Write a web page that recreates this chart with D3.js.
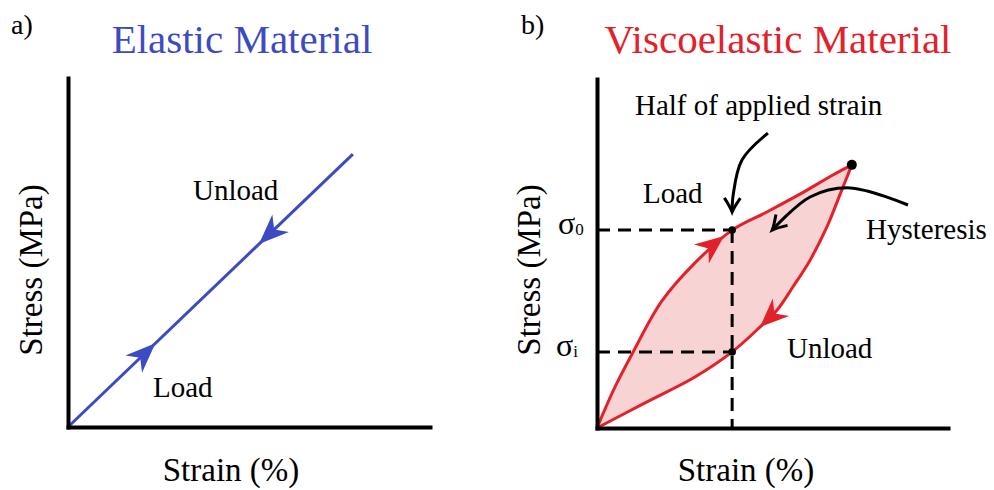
<!DOCTYPE html>
<html>
<head>
<meta charset="utf-8">
<script src="https://cdn.jsdelivr.net/npm/d3@7"></script>
<style>
  html, body { margin: 0; padding: 0; background: #fff; }
  svg { display: block; }
  text { font-family: "Liberation Serif", "Times New Roman", serif; }
</style>
</head>
<body>
<svg id="chart" width="994" height="490"></svg>
<script>
// ---------- DATA ----------
// Panel a) elastic material (strain, stress in arbitrary units 0..10)
const elasticStrain = [0, 7.87];
const elasticStress = [0, 7.82];
const elasticArrowStrain = [2.40, 5.25];
const elasticArrowStress = [2.41, 5.27];
const elasticArrowDir = [1, -1];        // load forward, unload backward

// Panel b) viscoelastic material (listed by increasing strain)
const loadStrain   = [0, 0.51, 1.03, 1.85, 2.79, 3.85, 4.84, 5.78, 6.72, 7.26];
const loadStress   = [0, 1.17, 2.18, 3.64, 4.73, 5.67, 6.19, 6.70, 7.25, 7.54];
const unloadStrain = [0, 1.37, 2.79, 3.85, 4.64, 5.13, 5.58, 6.07, 6.55, 6.92, 7.26];
const unloadStress = [0, 0.72, 1.46, 2.18, 2.89, 3.38, 4.04, 4.81, 5.76, 6.68, 7.54];
const halfStrain = 3.85;
const sigma0 = 5.67;
const sigmaI = 2.18;
const viscoArrowStrain = [3.62, 4.64];
const viscoArrowStress = [5.50, 2.89];
const viscoArrowDir = [1, -1];

// annotation arrows (panel b)
const halfArrowStrain = [4.87, 4.13, 3.88, 3.85];
const halfArrowStress = [8.45, 7.68, 6.68, 6.19];
const hystArrowStrain = [8.86, 7.21, 6.07, 4.99];
const hystArrowStress = [6.39, 6.88, 6.62, 5.67];

// labels
const panelLetters = ["a)", "b)"];
const titles = ["Elastic Material", "Viscoelastic Material"];
const xLabel = "Strain (%)";
const yLabel = "Stress (MPa)";

// ---------- STYLE ----------
const BLUE = "#3d4bc2";
const RED = "#e2222b";
const FILL = "#f8d3d3";

const svg = d3.select("#chart");

// scales
const xA = d3.scaleLinear().domain([0, 10]).range([68, 430]);
const yA = d3.scaleLinear().domain([0, 10]).range([427, 78]);
const xB = d3.scaleLinear().domain([0, 10]).range([597, 948]);
const yB = d3.scaleLinear().domain([0, 10]).range([428, 79]);

function drawAxes(x, y) {
  const gx = svg.append("g").attr("transform", `translate(0,${y(0)})`)
    .call(d3.axisBottom(x).ticks(0).tickSizeOuter(0));
  const gy = svg.append("g").attr("transform", `translate(${x(0)},0)`)
    .call(d3.axisLeft(y).ticks(0).tickSizeOuter(0));
  [gx, gy].forEach(g => g.select(".domain")
    .attr("stroke", "#000").attr("stroke-width", 4).attr("stroke-linecap", "square"));
}

function arrowAt(pathNode, px, py, dir, color, len, half, notch) {
  const total = pathNode.getTotalLength();
  let best = 0, bd = Infinity;
  for (let l = 0; l <= total; l += 0.5) {
    const p = pathNode.getPointAtLength(l);
    const d = (p.x - px) ** 2 + (p.y - py) ** 2;
    if (d < bd) { bd = d; best = l; }
  }
  const p = pathNode.getPointAtLength(best);
  const a = pathNode.getPointAtLength(Math.max(0, best - 6));
  const b = pathNode.getPointAtLength(Math.min(total, best + 6));
  let ang = Math.atan2(b.y - a.y, b.x - a.x) * 180 / Math.PI;
  if (dir < 0) ang += 180;
  svg.append("path")
    .attr("d", `M0,0 L${-len},${-half} L${-len + notch},0 L${-len},${half} Z`)
    .attr("fill", color)
    .attr("transform", `translate(${p.x},${p.y}) rotate(${ang})`);
}

function vArrow(pathNode, color) {
  const total = pathNode.getTotalLength();
  const p = pathNode.getPointAtLength(total);
  const a = pathNode.getPointAtLength(total - 3);
  const ang = Math.atan2(p.y - a.y, p.x - a.x) * 180 / Math.PI;
  svg.append("path")
    .attr("d", "M-14,-8 Q-5,-2 0,0 Q-5,2 -14,8")
    .attr("fill", "none").attr("stroke", color).attr("stroke-width", 3)
    .attr("transform", `translate(${p.x},${p.y}) rotate(${ang})`);
}

// ---------- PANEL A ----------
const lineA = d3.line().x(d => xA(d[0])).y(d => yA(d[1]));
const elasticPts = elasticStrain.map((s, i) => [s, elasticStress[i]]);
const blueLine = svg.append("path")
  .attr("d", lineA(elasticPts))
  .attr("fill", "none").attr("stroke", BLUE).attr("stroke-width", 3);
elasticArrowStrain.forEach((s, i) => {
  arrowAt(blueLine.node(), xA(s), yA(elasticArrowStress[i]), elasticArrowDir[i], BLUE, 30, 12, 9);
});
drawAxes(xA, yA);

// ---------- PANEL B ----------
const lineB = d3.line().x(d => xB(d[0])).y(d => yB(d[1])).curve(d3.curveCatmullRom.alpha(0.5));
const loadPts = loadStrain.map((s, i) => [s, loadStress[i]]);
const unloadPts = unloadStrain.map((s, i) => [s, unloadStress[i]]);

const loadD = lineB(loadPts);
const unloadD = lineB(unloadPts);
const tmp = svg.append("path").attr("d", unloadD).attr("fill", "none");
const tl = tmp.node().getTotalLength();
const back = [];
for (let i = 200; i >= 0; i--) {
  const p = tmp.node().getPointAtLength(tl * i / 200);
  back.push(`L${p.x.toFixed(2)},${p.y.toFixed(2)}`);
}
tmp.remove();

// hysteresis fill
svg.append("path")
  .attr("d", loadD + back.join("") + "Z")
  .attr("fill", FILL).attr("stroke", "none");

// dashed guides
const dash = "13,8";
svg.append("line")
  .attr("x1", xB(0)).attr("x2", xB(halfStrain)).attr("y1", yB(sigma0)).attr("y2", yB(sigma0))
  .attr("stroke", "#000").attr("stroke-width", 3).attr("stroke-dasharray", dash);
svg.append("line")
  .attr("x1", xB(0)).attr("x2", xB(halfStrain)).attr("y1", yB(sigmaI)).attr("y2", yB(sigmaI))
  .attr("stroke", "#000").attr("stroke-width", 3).attr("stroke-dasharray", dash);
svg.append("line")
  .attr("x1", xB(halfStrain)).attr("x2", xB(halfStrain)).attr("y1", yB(sigma0)).attr("y2", yB(0))
  .attr("stroke", "#000").attr("stroke-width", 3).attr("stroke-dasharray", dash);

const loadPath = svg.append("path").attr("d", loadD)
  .attr("fill", "none").attr("stroke", RED).attr("stroke-width", 3);
const unloadPath = svg.append("path").attr("d", unloadD)
  .attr("fill", "none").attr("stroke", RED).attr("stroke-width", 3);

arrowAt(loadPath.node(), xB(viscoArrowStrain[0]), yB(viscoArrowStress[0]), viscoArrowDir[0], RED, 29, 12, 9);
arrowAt(unloadPath.node(), xB(viscoArrowStrain[1]), yB(viscoArrowStress[1]), viscoArrowDir[1], RED, 29, 12, 9);

// points
[[halfStrain, sigma0], [halfStrain, sigmaI]].forEach(d => {
  svg.append("circle").attr("cx", xB(d[0])).attr("cy", yB(d[1])).attr("r", 3.8).attr("fill", "#000");
});
svg.append("circle").attr("cx", xB(loadStrain[loadStrain.length - 1]))
  .attr("cy", yB(loadStress[loadStress.length - 1])).attr("r", 5).attr("fill", "#000");

drawAxes(xB, yB);

// annotation arrows
const halfArrow = svg.append("path")
  .attr("d", lineB(halfArrowStrain.map((s, i) => [s, halfArrowStress[i]])))
  .attr("fill", "none").attr("stroke", "#000").attr("stroke-width", 3);
vArrow(halfArrow.node(), "#000");
const hystArrow = svg.append("path")
  .attr("d", lineB(hystArrowStrain.map((s, i) => [s, hystArrowStress[i]])))
  .attr("fill", "none").attr("stroke", "#000").attr("stroke-width", 3);
vArrow(hystArrow.node(), "#000");

// ---------- TEXT ----------
function txt(x, y, s, size, color, anchor) {
  return svg.append("text").attr("x", x).attr("y", y).text(s)
    .attr("font-size", size).attr("fill", color || "#000")
    .attr("text-anchor", anchor || "start");
}
txt(11, 34, panelLetters[0], 28);
txt(521, 34, panelLetters[1], 28);
txt(242, 53, titles[0], 41, BLUE, "middle");
txt(778, 53, titles[1], 41, RED, "middle");

txt(231, 481, xLabel, 33, "#000", "middle");
txt(746, 481, xLabel, 33, "#000", "middle");
svg.append("text").attr("transform", "translate(42,270) rotate(-90)")
  .attr("text-anchor", "middle").attr("font-size", 33).text(yLabel);
svg.append("text").attr("transform", "translate(540,270) rotate(-90)")
  .attr("text-anchor", "middle").attr("font-size", 33).text(yLabel);

txt(193, 200, "Unload", 29);
txt(153, 397, "Load", 29);
txt(643, 203, "Load", 29);
txt(787, 358, "Unload", 29);
txt(866, 239, "Hysteresis", 29);
txt(635, 115, "Half of applied strain", 29);

// sigma tick labels
function sigmaLabel(yv, sub, xs) {
  const t = svg.append("text").attr("x", xs).attr("y", yB(yv) + 4).attr("font-size", 32);
  t.append("tspan").text("σ");
  t.append("tspan").text(sub).attr("font-size", 17).attr("dy", 1);
}
sigmaLabel(sigma0, "0", 558);
sigmaLabel(sigmaI, "i", 556);
</script>
</body>
</html>
